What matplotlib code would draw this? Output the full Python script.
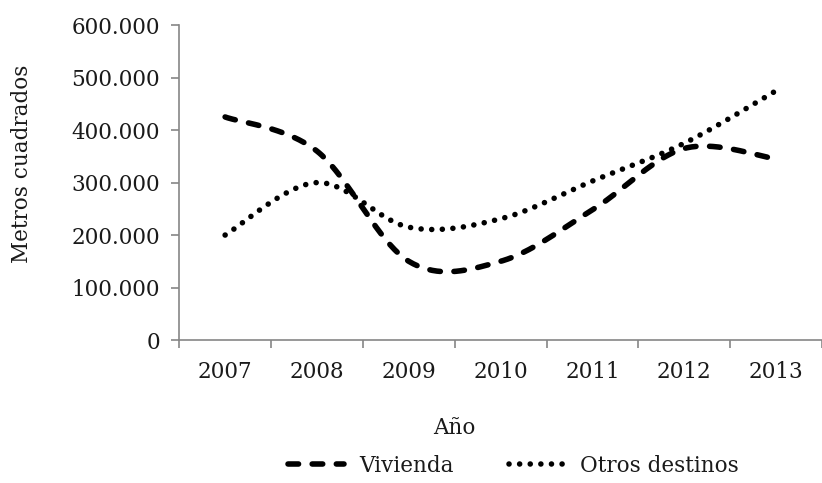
import matplotlib
matplotlib.use("Agg")
import matplotlib.pyplot as plt
import numpy as np
from matplotlib.ticker import FuncFormatter, FixedLocator

# data (metros cuadrados)
years = ['2007', '2008', '2009', '2010', '2011', '2012', '2013']
vivienda = [425000, 360000, 150000, 150000, 248000, 365000, 345000]
otros_destinos = [200000, 300000, 215000, 231000, 303000, 375000, 475000]


def smooth(xs, ys, n=40):
    # Excel-like smoothed line (bezier through the points, 1/6 tangents)
    xs = np.asarray(xs, float)
    ys = np.asarray(ys, float)
    px = np.concatenate([[xs[0]], xs, [xs[-1]]])
    py = np.concatenate([[ys[0]], ys, [ys[-1]]])
    t = np.linspace(0, 1, n)
    out_x, out_y = [], []
    for i in range(1, len(px) - 2):
        x0, y0 = px[i], py[i]
        x3, y3 = px[i + 1], py[i + 1]
        x1 = x0 + (px[i + 1] - px[i - 1]) / 6
        y1 = y0 + (py[i + 1] - py[i - 1]) / 6
        x2 = x3 - (px[i + 2] - px[i]) / 6
        y2 = y3 - (py[i + 2] - py[i]) / 6
        bx = (1-t)**3*x0 + 3*(1-t)**2*t*x1 + 3*(1-t)*t**2*x2 + t**3*x3
        by = (1-t)**3*y0 + 3*(1-t)**2*t*y1 + 3*(1-t)*t**2*y2 + t**3*y3
        out_x.extend(bx)
        out_y.extend(by)
    return np.array(out_x), np.array(out_y)


plt.rcParams['font.family'] = 'DejaVu Serif'
text_color = '#1a1a1a'
axis_color = '#868686'
fs = 15.5

fig = plt.figure(figsize=(8.22, 4.83), dpi=100)
ax = fig.add_axes([0.218, 0.296, 0.782, 0.652])

x = np.arange(len(years))
sx, sy = smooth(x, vivienda)
ax.plot(sx, sy, color='black', lw=4, dashes=(1.9, 2.45),
        dash_capstyle='round', label='Vivienda')
sx, sy = smooth(x, otros_destinos)
ax.plot(sx, sy, color='black', lw=4, dashes=(0.01, 1.9),
        dash_capstyle='round', label='Otros destinos')

ax.set_xlim(-0.5, len(years) - 0.5)
ax.set_ylim(0, 600000)
ax.set_yticks(np.arange(0, 600001, 100000))
ax.yaxis.set_major_formatter(FuncFormatter(lambda v, p: f"{int(v):,}".replace(",", ".")))

ax.set_xticks(x)
ax.set_xticklabels(years)
ax.xaxis.set_minor_locator(FixedLocator(np.arange(-0.5, len(years), 1)))
ax.tick_params(axis='x', which='major', length=0, pad=15, labelsize=fs, colors=text_color)
ax.tick_params(axis='x', which='minor', length=6, width=1.2, color=axis_color, direction='out')
ax.tick_params(axis='y', length=6, width=1.2, color=axis_color, direction='out',
               labelsize=fs, labelcolor=text_color, pad=8)

for side in ['top', 'right']:
    ax.spines[side].set_visible(False)
for side in ['left', 'bottom']:
    ax.spines[side].set_color(axis_color)
    ax.spines[side].set_linewidth(1.2)

ax.set_ylabel('Metros cuadrados', fontsize=fs, color=text_color)
ax.yaxis.set_label_coords(-0.227, 0.56)
fig.text(0.553, 0.114, 'Año', ha='center', va='center', fontsize=fs, color=text_color)

ax.legend(loc='center', bbox_to_anchor=(0.52, -0.40), ncol=2, frameon=False,
          fontsize=fs, handlelength=2.6, columnspacing=2.6, handletextpad=0.7,
          labelcolor=text_color)

fig.savefig('out.png', dpi=100)
